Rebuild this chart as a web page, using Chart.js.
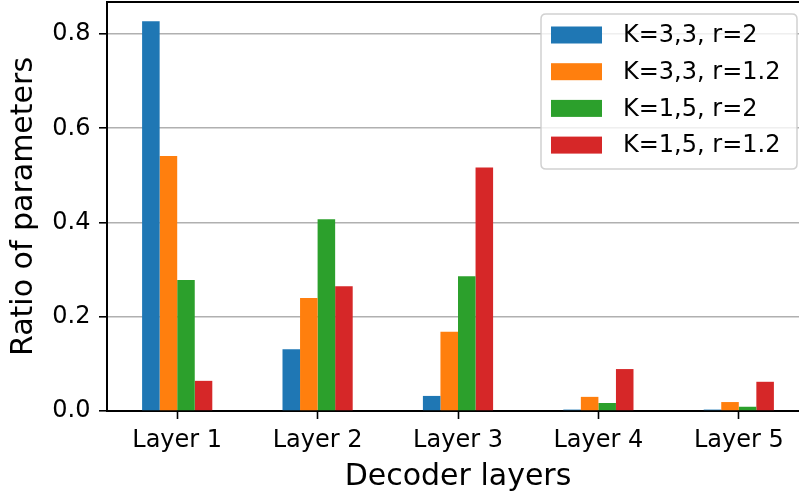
<!DOCTYPE html>
<html>
<head>
<meta charset="utf-8">
<script src="https://cdn.jsdelivr.net/npm/chart.js@4.4.1/dist/chart.umd.min.js"></script>
<style>
  html, body { margin: 0; padding: 0; background: #ffffff; overflow: hidden; width: 799px; height: 495px; }
  canvas { display: block; }
</style>
</head>
<body>
<canvas id="c" width="810" height="495" style="width:810px;height:495px"></canvas>
<script>
const categories = ['Layer 1', 'Layer 2', 'Layer 3', 'Layer 4', 'Layer 5'];
const seriesNames = ['K=3,3, r=2', 'K=3,3, r=1.2', 'K=1,5, r=2', 'K=1,5, r=1.2'];
const k33r2  = [0.827, 0.131, 0.032, 0.003, 0.003];
const k33r12 = [0.541, 0.240, 0.168, 0.030, 0.019];
const k15r2  = [0.278, 0.407, 0.286, 0.017, 0.009];
const k15r12 = [0.064, 0.265, 0.517, 0.089, 0.062];
const yTicks = [0.0, 0.2, 0.4, 0.6, 0.8];
const yMax = 0.868;
const colors = ['#1f77b4', '#ff7f0e', '#2ca02c', '#d62728'];
const FONT = 'DejaVu Sans';

const seriesValues = [k33r2, k33r12, k15r2, k15r12];

const frameAndLegend = {
  id: 'frameAndLegend',
  afterDraw(chart) {
    const ctx = chart.ctx;
    const a = chart.chartArea;
    ctx.save();
    // top spine
    ctx.strokeStyle = '#000000';
    ctx.lineWidth = 2;
    ctx.beginPath();
    ctx.moveTo(a.left - 1, a.top);
    ctx.lineTo(a.right, a.top);
    ctx.stroke();

    // legend box
    const lx = 541, ly = 14, lw = 256, lh = 155, r = 5;
    ctx.beginPath();
    ctx.moveTo(lx + r, ly);
    ctx.lineTo(lx + lw - r, ly);
    ctx.quadraticCurveTo(lx + lw, ly, lx + lw, ly + r);
    ctx.lineTo(lx + lw, ly + lh - r);
    ctx.quadraticCurveTo(lx + lw, ly + lh, lx + lw - r, ly + lh);
    ctx.lineTo(lx + r, ly + lh);
    ctx.quadraticCurveTo(lx, ly + lh, lx, ly + lh - r);
    ctx.lineTo(lx, ly + r);
    ctx.quadraticCurveTo(lx, ly, lx + r, ly);
    ctx.closePath();
    ctx.fillStyle = 'rgba(255,255,255,0.8)';
    ctx.fill();
    ctx.strokeStyle = 'rgba(204,204,204,0.9)';
    ctx.lineWidth = 1.5;
    ctx.stroke();

    ctx.font = '24px "' + FONT + '"';
    ctx.textBaseline = 'middle';
    ctx.textAlign = 'left';
    chart.data.datasets.forEach((ds, i) => {
      const cy = 35 + i * 36.7;
      ctx.fillStyle = ds.backgroundColor;
      ctx.fillRect(551, cy - 8.5, 51, 17);
      ctx.fillStyle = '#000000';
      ctx.fillText(ds.label, 623, cy + 1);
    });
    ctx.restore();
  }
};

new Chart(document.getElementById('c'), {
  type: 'bar',
  data: {
    labels: categories,
    datasets: seriesNames.map((name, i) => ({
      label: name,
      data: seriesValues[i],
      backgroundColor: colors[i],
      borderWidth: 0,
      categoryPercentage: 0.5,
      barPercentage: 1.0
    }))
  },
  options: {
    responsive: false,
    animation: false,
    devicePixelRatio: 1,
    layout: { padding: { top: 2, right: 1, left: 0, bottom: 0 } },
    plugins: {
      legend: { display: false },
      tooltip: { enabled: false }
    },
    scales: {
      x: {
        type: 'category',
        offset: true,
        z: 1,
        grid: {
          display: true,
          offset: false,
          drawOnChartArea: false,
          drawTicks: true,
          tickLength: 8,
          tickColor: '#000000',
          tickWidth: 1.6
        },
        border: { display: true, color: '#000000', width: 2 },
        ticks: {
          color: '#000000',
          font: { family: FONT, size: 24, lineHeight: 1.2 },
          padding: 7.5,
          maxRotation: 0,
          autoSkip: false
        },
        title: {
          display: true,
          text: 'Decoder layers',
          color: '#000000',
          font: { family: FONT, size: 30, lineHeight: 1.2 },
          padding: { top: 0, bottom: 0 }
        },
        afterFit(scale) {
          scale.height = 84;
          scale.paddingLeft = 0; scale.paddingRight = 0;
          scale.paddingTop = 0; scale.paddingBottom = 0;
        }
      },
      y: {
        type: 'linear',
        min: 0,
        max: yMax,
        z: 1,
        afterBuildTicks(scale) { scale.ticks = yTicks.map(v => ({ value: v })); },
        grid: {
          color: '#b0b0b0',
          lineWidth: 1.6,
          drawTicks: true,
          tickLength: 8,
          tickColor: '#000000',
          tickWidth: 1.6
        },
        border: { display: true, color: '#000000', width: 2 },
        ticks: {
          color: '#000000',
          font: { family: FONT, size: 24, lineHeight: 1.2 },
          padding: 8.5,
          includeBounds: false,
          callback: (v) => Number(v).toFixed(1)
        },
        title: {
          display: true,
          text: 'Ratio of parameters',
          color: '#000000',
          font: { family: FONT, size: 30, lineHeight: 1.2 },
          padding: { top: 6, bottom: 0 }
        },
        afterFit(scale) {
          scale.width = 107;
          scale.paddingLeft = 0; scale.paddingRight = 0;
          scale.paddingTop = 0; scale.paddingBottom = 0;
        }
      }
    }
  },
  plugins: [frameAndLegend]
});
</script>
</body>
</html>
